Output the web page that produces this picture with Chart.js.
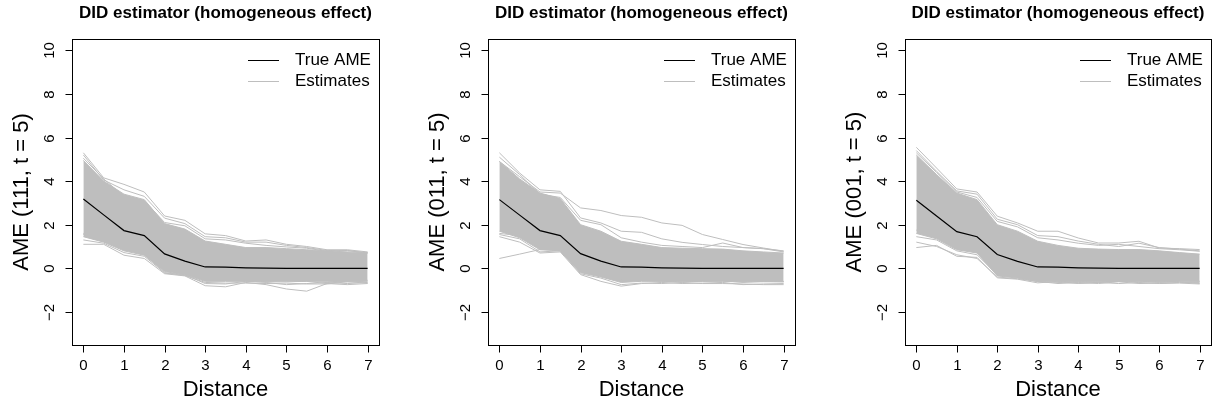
<!DOCTYPE html>
<html>
<head>
<meta charset="utf-8">
<script src="https://cdn.jsdelivr.net/npm/chart.js@4/dist/chart.umd.min.js"></script>
<style>
  body { margin: 0; background: #fff; }
  #wrap { position: relative; width: 1216px; height: 408px; }
  canvas { position: absolute; top: 0; }
</style>
</head>
<body>
<div id="wrap">
  <canvas id="c1" width="405" height="408" style="left:0px"></canvas>
  <canvas id="c2" width="405" height="408" style="left:405px"></canvas>
  <canvas id="c3" width="406" height="408" style="left:810px"></canvas>
</div>
<script>
// distance grid (x) and axis ticks
const dist = [0, 0.5, 1, 1.5, 2, 2.5, 3, 3.5, 4, 4.5, 5, 5.5, 6, 6.5, 7];
const xTicks = [0, 1, 2, 3, 4, 5, 6, 7];
const yTicks = [-2, 0, 2, 4, 6, 8, 10];
const titles = ["DID estimator (homogeneous effect)", "DID estimator (homogeneous effect)", "DID estimator (homogeneous effect)"];
const yLabels = ["AME (111, t = 5)", "AME (011, t = 5)", "AME (001, t = 5)"];

// panel 1 (111)
const true1 = [3.18, 2.45, 1.73, 1.5, 0.66, 0.33, 0.06, 0.05, 0.02, 0.01, 0, 0, 0, 0, 0];
const bandHi1 = [4.95, 4.0, 3.4, 3.15, 2.05, 1.8, 1.25, 1.1, 0.95, 0.95, 0.9, 0.85, 0.8, 0.75, 0.7];
const bandLo1 = [1.45, 1.2, 0.8, 0.6, -0.15, -0.3, -0.6, -0.6, -0.6, -0.62, -0.62, -0.6, -0.6, -0.62, -0.6];
const est1 = [
  [5.3, 4.15, 3.85, 3.5, 2.4, 2.2, 1.58, 1.5, 1.25, 1.3, 1.1, 1.0, 0.85, 0.85, 0.75],
  [5.2, 4.05, 3.6, 3.3, 2.3, 2.05, 1.45, 1.4, 1.2, 1.2, 1.05, 0.95, 0.82, 0.8, 0.72],
  [5.05, 4.1, 3.3, 3.1, 2.1, 1.95, 1.35, 1.3, 1.15, 1.05, 0.98, 0.92, 0.78, 0.82, 0.7],
  [1.1, 1.1, 0.6, 0.45, -0.25, -0.35, -0.8, -0.85, -0.65, -0.75, -0.95, -1.05, -0.7, -0.75, -0.7],
  [1.3, 1.15, 0.72, 0.55, -0.2, -0.3, -0.7, -0.72, -0.6, -0.65, -0.75, -0.7, -0.65, -0.7, -0.65],
  [1.55, 1.4, 0.85, 0.7, -0.22, -0.33, -0.65, -0.68, -0.68, -0.7, -0.68, -0.72, -0.72, -0.62, -0.68],
  [1.6, 1.5, 0.9, 0.62, -0.1, -0.25, -0.55, -0.5, -0.55, -0.6, -0.55, -0.6, -0.7, -0.58, -0.55]
];

// panel 2 (011)
const true2 = [3.15, 2.44, 1.73, 1.5, 0.67, 0.33, 0.06, 0.05, 0.02, 0.01, 0, 0, 0, 0, 0];
const bandHi2 = [4.9, 4.1, 3.45, 3.2, 2.0, 1.7, 1.24, 1.1, 0.95, 0.92, 0.9, 0.88, 0.8, 0.75, 0.7];
const bandLo2 = [1.7, 1.4, 0.85, 0.8, -0.2, -0.4, -0.65, -0.6, -0.6, -0.6, -0.6, -0.6, -0.62, -0.62, -0.62];
const est2 = [
  [4.9, 4.2, 3.5, 3.45, 2.77, 2.65, 2.42, 2.34, 2.08, 1.97, 1.55, 1.32, 1.09, 0.93, 0.78],
  [5.3, 4.37, 3.6, 3.53, 2.31, 2.08, 1.7, 1.65, 1.35, 1.19, 1.09, 1.0, 0.95, 0.9, 0.8],
  [5.1, 4.3, 3.4, 3.25, 2.2, 2.0, 1.4, 1.2, 1.05, 1.0, 0.95, 1.16, 0.95, 0.9, 0.75],
  [0.45, 0.65, 0.86, 0.85, -0.1, -0.2, -0.5, -0.5, -0.55, -0.5, -0.55, -0.5, -0.6, -0.55, -0.6],
  [1.45, 1.2, 0.7, 0.75, -0.29, -0.6, -0.82, -0.7, -0.65, -0.7, -0.68, -0.65, -0.75, -0.72, -0.7],
  [1.55, 1.35, 0.75, 0.8, -0.25, -0.45, -0.75, -0.68, -0.7, -0.65, -0.7, -0.7, -0.72, -0.75, -0.75],
  [1.6, 1.5, 0.95, 0.8, -0.15, -0.35, -0.6, -0.55, -0.6, -0.62, -0.6, -0.58, -0.65, -0.6, -0.62]
];

// panel 3 (001)
const true3 = [3.12, 2.4, 1.68, 1.45, 0.63, 0.32, 0.06, 0.05, 0.02, 0.01, 0, 0, 0, 0, 0];
const bandHi3 = [5.2, 4.3, 3.45, 3.15, 2.0, 1.7, 1.24, 1.05, 0.92, 0.88, 0.86, 0.86, 0.8, 0.72, 0.65];
const bandLo3 = [1.6, 1.35, 0.85, 0.7, -0.35, -0.45, -0.6, -0.6, -0.62, -0.62, -0.6, -0.6, -0.62, -0.6, -0.6];
const est3 = [
  [5.55, 4.6, 3.64, 3.5, 2.39, 2.08, 1.7, 1.7, 1.39, 1.16, 1.16, 1.24, 0.93, 0.9, 0.86],
  [5.4, 4.45, 3.55, 3.4, 2.25, 2.0, 1.5, 1.45, 1.25, 1.1, 1.0, 1.15, 0.95, 0.88, 0.8],
  [5.3, 4.4, 3.5, 3.25, 2.15, 1.9, 1.4, 1.3, 1.15, 1.05, 1.1, 1.0, 0.9, 0.85, 0.78],
  [0.95, 1.05, 0.55, 0.5, -0.44, -0.5, -0.67, -0.6, -0.7, -0.65, -0.6, -0.62, -0.65, -0.62, -0.7],
  [1.2, 1.0, 0.62, 0.45, -0.4, -0.48, -0.6, -0.7, -0.65, -0.7, -0.62, -0.7, -0.68, -0.65, -0.65],
  [1.45, 1.3, 0.8, 0.62, -0.3, -0.42, -0.62, -0.65, -0.68, -0.65, -0.7, -0.65, -0.7, -0.68, -0.72],
  [1.75, 1.6, 0.9, 0.72, -0.2, -0.35, -0.55, -0.55, -0.6, -0.58, -0.6, -0.55, -0.6, -0.58, -0.6]
];

const GRAY = "#BEBEBE";
const FONT = "'Liberation Sans', Arial, Helvetica, sans-serif";

function pts(vals) {
  return vals.map((v, i) => ({ x: dist[i], y: v }));
}

// R-style box, ticks, labels and legend
const rAxes = {
  id: "rAxes",
  afterDraw(chart, args, opts) {
    const { ctx, chartArea: a, scales: { x, y } } = chart;
    ctx.save();
    ctx.strokeStyle = "#000";
    ctx.lineWidth = 1;
    ctx.strokeRect(Math.round(a.left) + 0.5, Math.round(a.top) + 0.5,
      Math.round(a.right - a.left), Math.round(a.bottom - a.top));

    ctx.fillStyle = "#000";
    ctx.font = "15px " + FONT;
    ctx.textAlign = "center";
    ctx.textBaseline = "middle";
    const bx = Math.round(a.bottom) + 0.5;
    xTicks.forEach((v) => {
      const px = Math.round(x.getPixelForValue(v)) + 0.5;
      ctx.beginPath();
      ctx.moveTo(px, bx);
      ctx.lineTo(px, bx + 7);
      ctx.stroke();
      ctx.fillText(String(v), px, a.bottom + 21);
    });
    const lx = Math.round(a.left) + 0.5;
    yTicks.forEach((v) => {
      const py = Math.round(y.getPixelForValue(v)) + 0.5;
      ctx.beginPath();
      ctx.moveTo(lx, py);
      ctx.lineTo(lx - 7, py);
      ctx.stroke();
      ctx.save();
      ctx.translate(a.left - 22, py);
      ctx.rotate(-Math.PI / 2);
      ctx.fillText(v < 0 ? "\u2212" + Math.abs(v) : String(v), 0, 0);
      ctx.restore();
    });

    // axis titles
    ctx.font = "22px " + FONT;
    ctx.fillText("Distance", (a.left + a.right) / 2, a.bottom + 45);
    ctx.save();
    ctx.translate(a.left - 50, (a.top + a.bottom) / 2);
    ctx.rotate(-Math.PI / 2);
    ctx.fillText(opts.ylab, 0, 0);
    ctx.restore();

    // main title
    ctx.font = "bold 17px " + FONT;
    ctx.fillText(opts.title, (a.left + a.right) / 2, 13);

    // legend
    ctx.font = "17px " + FONT;
    ctx.textAlign = "left";
    const items = [["True AME", "#000", 60.5], ["Estimates", GRAY, 81.5]];
    items.forEach(([txt, col, ly]) => {
      ctx.strokeStyle = col;
      ctx.beginPath();
      ctx.moveTo(a.right - 131, ly);
      ctx.lineTo(a.right - 100, ly);
      ctx.stroke();
      ctx.fillText(txt, a.right - 84, ly);
    });
    ctx.restore();
  }
};

function makePanel(id, pad, trueVals, hi, lo, ests, title, ylab) {
  const datasets = [
    { data: pts(trueVals), borderColor: "#000", borderWidth: 1.2, fill: false, order: 0 },
    { data: pts(hi), borderColor: GRAY, backgroundColor: GRAY, borderWidth: 1, fill: "+1", order: 5 },
    { data: pts(lo), borderColor: GRAY, borderWidth: 1, fill: false, order: 5 }
  ];
  ests.forEach((e) => {
    datasets.push({ data: pts(e), borderColor: GRAY, borderWidth: 1, fill: false, order: 3 });
  });
  new Chart(document.getElementById(id).getContext("2d"), {
    type: "line",
    data: { datasets: datasets },
    options: {
      responsive: false,
      animation: false,
      devicePixelRatio: 1,
      layout: { padding: pad },
      elements: { point: { radius: 0 }, line: { tension: 0 } },
      plugins: {
        legend: { display: false },
        tooltip: { enabled: false },
        rAxes: { title: title, ylab: ylab }
      },
      scales: {
        x: { type: "linear", min: -0.28, max: 7.28, display: false },
        y: { type: "linear", min: -3.52, max: 10.52, display: false }
      }
    },
    plugins: [rAxes]
  });
}

makePanel("c1", { left: 72, right: 26, top: 39, bottom: 63 }, true1, bandHi1, bandLo1, est1, titles[0], yLabels[0]);
makePanel("c2", { left: 83, right: 15, top: 39, bottom: 63 }, true2, bandHi2, bandLo2, est2, titles[1], yLabels[1]);
makePanel("c3", { left: 95, right: 5, top: 39, bottom: 63 }, true3, bandHi3, bandLo3, est3, titles[2], yLabels[2]);
</script>
</body>
</html>
